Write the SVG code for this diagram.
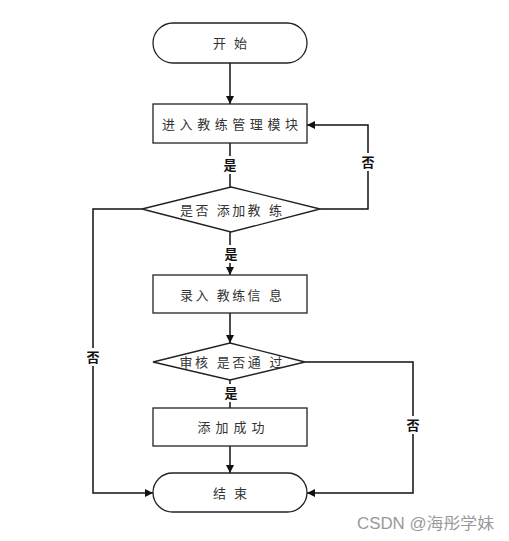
<svg xmlns="http://www.w3.org/2000/svg" width="509" height="541" viewBox="0 0 509 541">
<style>
.n{fill:#fff;stroke:#222;stroke-width:1.3}
.t{font-family:"Liberation Sans","Noto Sans CJK SC",sans-serif;font-size:13px;fill:#333;text-anchor:middle;dominant-baseline:central}
.c{fill:none;stroke:#111;stroke-width:1.5}
.lb{fill:#fff}
.l{font-family:"Liberation Sans","Noto Sans CJK SC",sans-serif;font-size:13px;font-weight:bold;fill:#111;text-anchor:middle;dominant-baseline:central}
</style>
<defs>
<marker id="a" viewBox="0 0 10 10" refX="10" refY="5" markerWidth="8" markerHeight="8" markerUnits="userSpaceOnUse" orient="auto"><path d="M0,0L10,5L0,10z" fill="#111"/></marker>
</defs>
<rect width="509" height="541" fill="#fff"/>
<g id="connectors">
<path class="c" d="M230,63V104" marker-end="url(#a)"/>
<path class="c" d="M230,143V187"/>
<path class="c" d="M320,209H368V125H307" marker-end="url(#a)"/>
<path class="c" d="M230,232V275" marker-end="url(#a)"/>
<path class="c" d="M142,209H93V493H153" marker-end="url(#a)"/>
<path class="c" d="M230,313V343" marker-end="url(#a)"/>
<path class="c" d="M230,380V408"/>
<path class="c" d="M305,362H413V493H307" marker-end="url(#a)"/>
<path class="c" d="M230,446V473" marker-end="url(#a)"/>
<rect class="lb" x="222" y="156" width="16" height="18"/><text class="l" x="230" y="165">是</text>
<rect class="lb" x="360" y="153" width="16" height="18"/><text class="l" x="368" y="162">否</text>
<rect class="lb" x="223" y="245" width="16" height="18"/><text class="l" x="231" y="254">是</text>
<rect class="lb" x="85" y="348" width="16" height="18"/><text class="l" x="93" y="357">否</text>
<rect class="lb" x="223" y="384" width="16" height="18"/><text class="l" x="231" y="393">是</text>
<rect class="lb" x="405" y="416" width="16" height="18"/><text class="l" x="413" y="425">否</text>
</g>
<g id="start"><rect class="n" x="153" y="23" width="154" height="40" rx="20"/><text class="t" x="230" y="43" textLength="34" lengthAdjust="spacing">开始</text></g>
<g id="enter"><rect class="n" x="153" y="104" width="154" height="39"/><text class="t" x="230" y="124" textLength="136" lengthAdjust="spacing">进入教练管理模块</text></g>
<g id="addq"><polygon class="n" points="231,187 320,209 231,232 142,209"/><text class="t" x="231" y="210" textLength="102" lengthAdjust="spacing">是否 添加教 练</text></g>
<g id="input"><rect class="n" x="153" y="275" width="154" height="38"/><text class="t" x="231" y="295" textLength="102" lengthAdjust="spacing">录入 教练信 息</text></g>
<g id="review"><polygon class="n" points="230,343 305,362 230,380 153,362"/><text class="t" x="231" y="362" textLength="103" lengthAdjust="spacing">审核 是否通 过</text></g>
<g id="success"><rect class="n" x="153" y="408" width="154" height="38"/><text class="t" x="231" y="427" textLength="67" lengthAdjust="spacing">添加成功</text></g>
<g id="end"><rect class="n" x="153" y="473" width="154" height="39" rx="19.5"/><text class="t" x="230" y="493" textLength="34" lengthAdjust="spacing">结束</text></g>
<text x="357" y="529" font-family="Liberation Sans,'Noto Sans CJK SC',sans-serif" font-size="16" fill="#999" textLength="137" lengthAdjust="spacingAndGlyphs">CSDN @海彤学妹</text>
</svg>
